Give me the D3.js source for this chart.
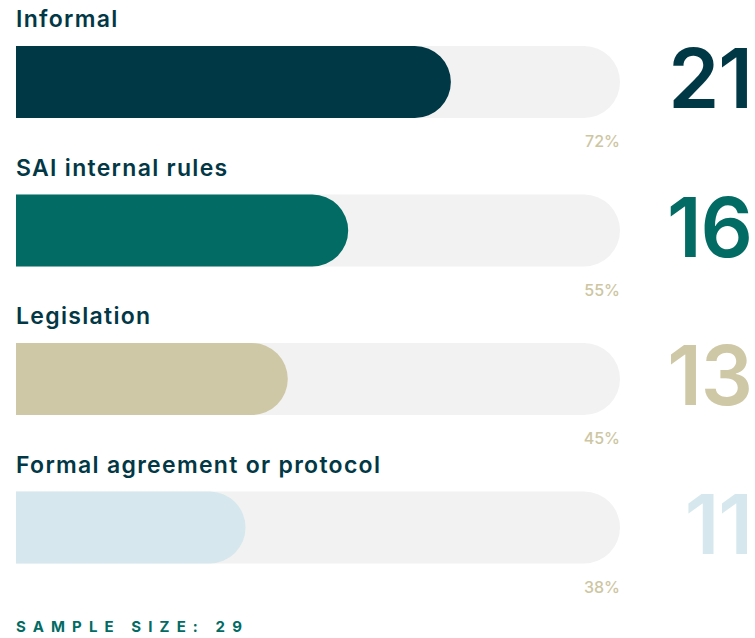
<!DOCTYPE html>
<html><head><meta charset="utf-8">
<script src="https://cdn.jsdelivr.net/npm/d3@7"></script>
<style>html,body{margin:0;padding:0;background:#fff;}svg{display:block;}</style>
</head><body>
<svg id="c" width="755" height="638"></svg>
<script>
const categories = ["Informal", "SAI internal rules", "Legislation", "Formal agreement or protocol"];
const counts = [21, 16, 13, 11];
const percents = [72, 55, 45, 38];
const colors = ["#013845", "#026b63", "#cfc8a6", "#d6e8ed"];
const sampleSize = 29;

const svg = d3.select("#c");
const x = d3.scaleLinear().domain([0, 100]).range([16, 620]);
const y = d3.scaleBand().domain(categories).range([46, 640]).paddingInner(0).paddingOuter(0);
const barH = 72;

function roundRight(x0, x1, y0, h) {
  const rr = Math.min(h / 2, x1 - x0);
  return `M${x0},${y0}H${x1 - rr}A${rr},${rr} 0 0 1 ${x1},${y0 + rr}V${y0 + h - rr}A${rr},${rr} 0 0 1 ${x1 - rr},${y0 + h}H${x0}Z`;
}

const g = svg.selectAll("g.row").data(categories).join("g").attr("class", "row");

g.append("path").attr("d", d => roundRight(x(0), x(100), y(d), barH)).attr("fill", "#f2f2f2");
g.append("path").attr("d", (d, i) => roundRight(x(0), x(percents[i]), y(d), barH)).attr("fill", (d, i) => colors[i]);

g.append("text").attr("x", x(0)).attr("y", d => y(d) - 19)
  .attr("font-family", "Inter, sans-serif").attr("font-weight", 600).attr("font-size", 23)
  .attr("letter-spacing", 1.3)
  .attr("fill", "#023846").text(d => d);

g.append("text").attr("x", x(100)).attr("y", d => y(d) + 101)
  .attr("text-anchor", "end").attr("font-family", "Inter, sans-serif").attr("font-weight", 500).attr("font-size", 16)
  .attr("fill", "#cdc6a2").text((d, i) => percents[i] + "%");

g.append("text").attr("x", 752).attr("y", d => y(d) + 62)
  .attr("text-anchor", "end").attr("font-family", "Inter, sans-serif").attr("font-weight", 600)
  .attr("font-size", 82).attr("letter-spacing", -1)
  .attr("fill", (d, i) => colors[i]).text((d, i) => counts[i]);

svg.append("text").attr("x", 16).attr("y", 632)
  .attr("font-family", "Inter, sans-serif").attr("font-weight", 700).attr("font-size", 15)
  .attr("letter-spacing", 7.1).attr("fill", "#026b63").text("SAMPLE SIZE: " + sampleSize);
</script>
</body></html>
